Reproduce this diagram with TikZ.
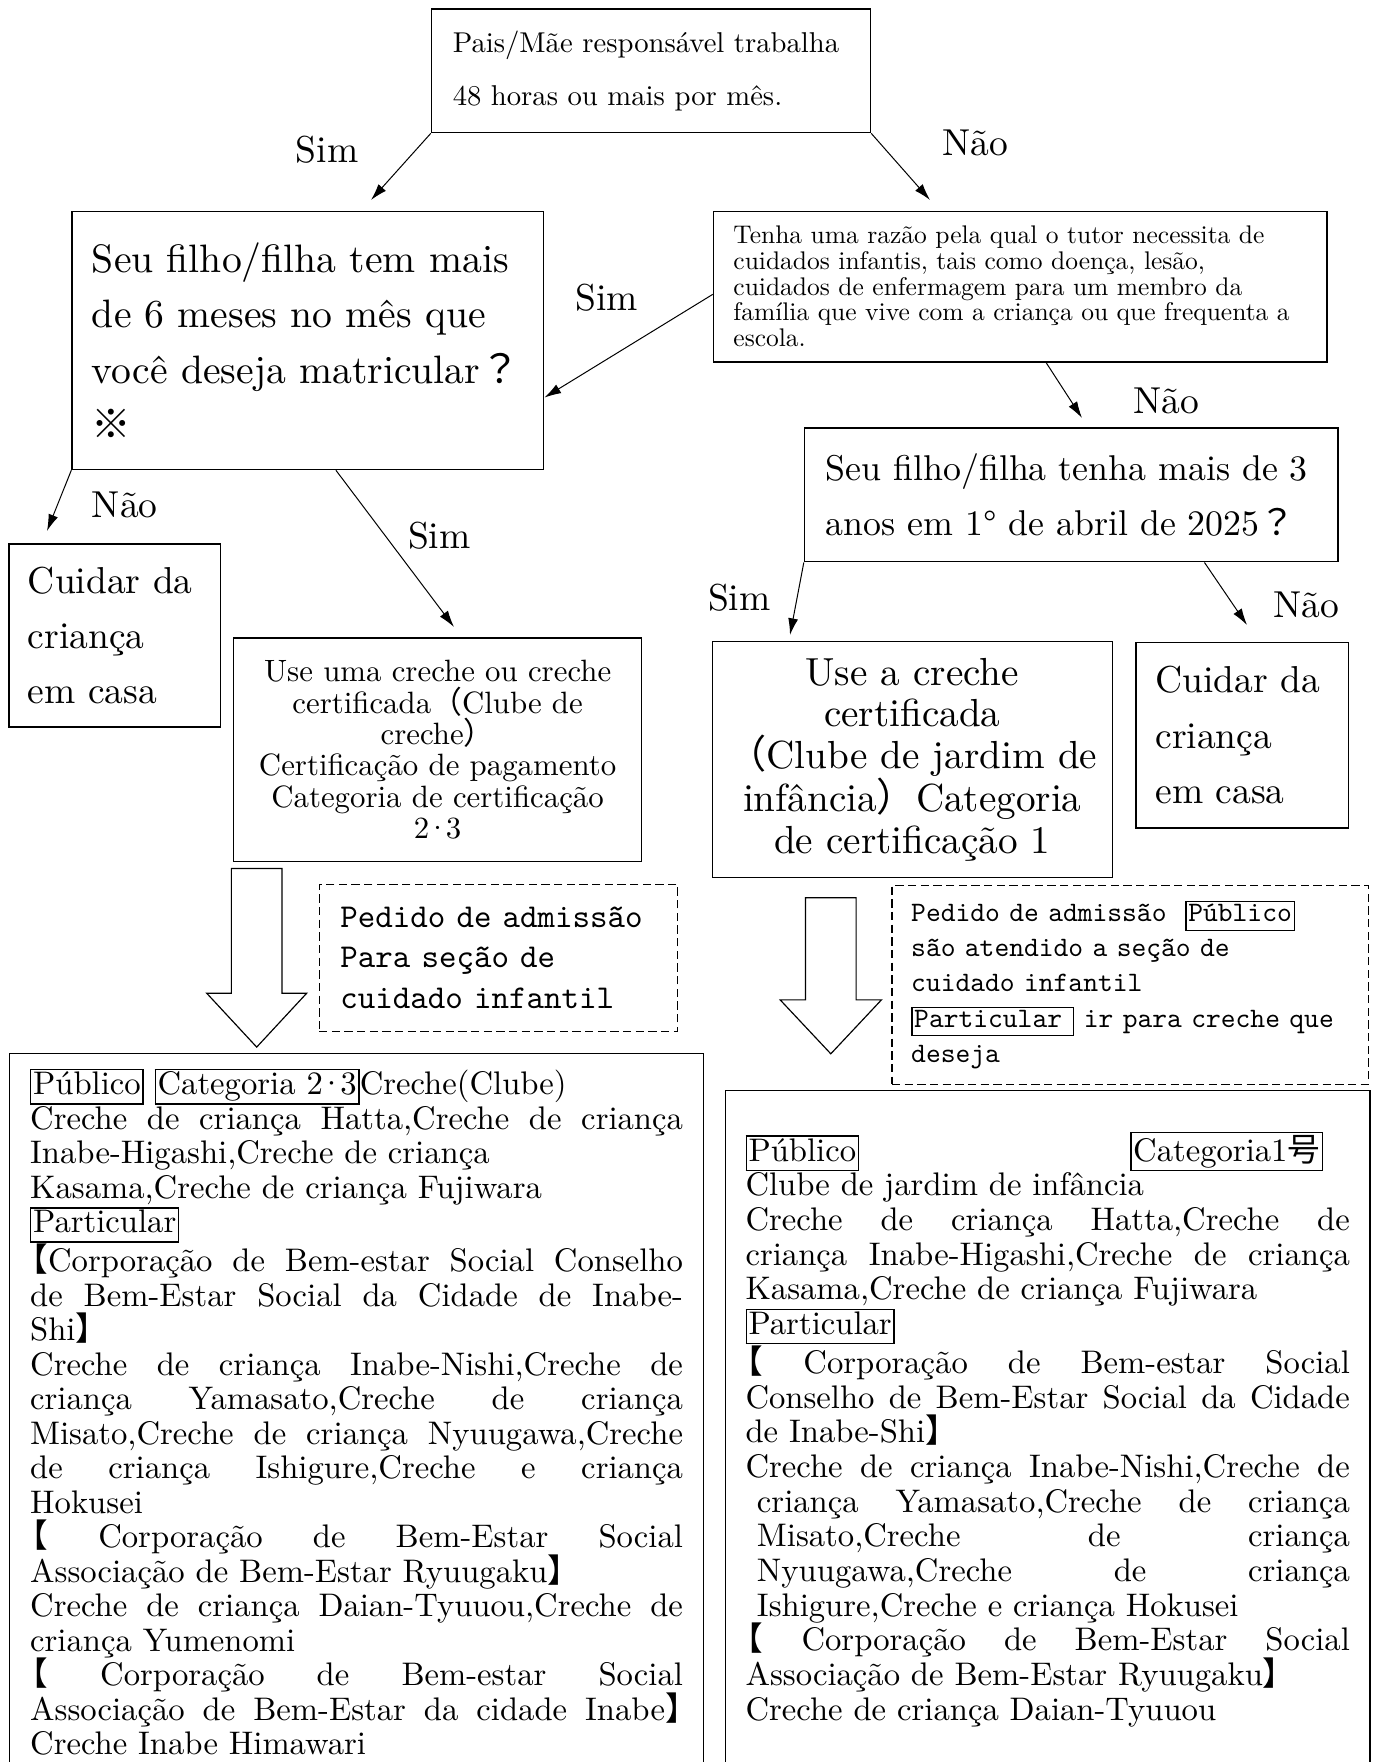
\documentclass[tikz,border=0pt]{standalone}
\usepackage{fontspec}
\setmainfont{lmroman10-regular.otf}
\setmonofont{lmmono10-regular.otf}
\newfontfamily\cjk{Noto Sans CJK JP}
\usetikzlibrary{
    arrows.meta,
    calc
}
\newcommand{\tagbox}[1]{{\setlength{\fboxsep}{1pt}\setlength{\fboxrule}{0.8pt}\fbox{\vphantom{Pg}#1}}}
\newcommand{\lbk}{\hspace*{-0.45em}{\cjk 【}}
\newcommand{\rbk}{{\cjk 】}\kern-0.45em}
\newcommand{\mdot}{\kern-0.12em·\kern-0.12em}
\tikzset{
    qbox/.style={draw, line width=0.8pt, align=left},
    abox/.style={draw, line width=0.8pt, align=center},
    notebox/.style={draw, line width=0.7pt, dash pattern=on 5pt off 2.6pt, align=left},
    listbox/.style={draw, line width=0.8pt, anchor=north west, inner xsep=12.3pt},
    lbl/.style={font=\fontsize{22.5}{24}\selectfont},
    flow/.style={-{Latex[length=10pt,width=6pt]}, line width=0.6pt},
    bigarrow/.style={draw, line width=0.7pt, fill=white}
}

\begin{document}
\begin{tikzpicture}[x=0.6pt, y=-0.6pt]
    \path[use as bounding box, fill=white] (0,0) rectangle (1374,1762);

    \node[qbox, minimum width=263.5pt, minimum height=74.3pt, inner xsep=12.8pt, text width=237.9pt,
        font=\fontsize{17.2}{32}\selectfont] (qTop) at (651,70.8)
        {Pais/Mãe responsável trabalha\\48 horas ou mais por mês.};
    \node[qbox, minimum width=283.1pt, minimum height=155pt, inner xsep=12pt, text width=259.1pt,
        font=\fontsize{23.8}{33.3}\selectfont] (qAge) at (307.9,340.4)
        {Seu filho/filha tem mais\\de 6 meses no mês que\\você deseja matricular{\cjk ？}\\{\cjk ※}};
    \node[qbox, minimum width=368.1pt, minimum height=90.4pt, inner xsep=12pt, text width=344.1pt,
        font=\fontsize{15.3}{15.4}\selectfont] (qReason) at (1020.2,286.5)
        {Tenha uma razão pela qual o tutor necessita de\\cuidados infantis, tais como doença, lesão,\\cuidados de enfermagem para um membro da\\família que vive com a criança ou que frequenta a\\escola.};
    \node[qbox, minimum width=320.2pt, minimum height=80.3pt, inner xsep=12.8pt, text width=294.6pt,
        font=\fontsize{21.5}{33}\selectfont] (qThree) at (1071.3,494.9)
        {Seu filho/filha tenha mais de 3\\anos em 1° de abril de 2025{\cjk ？}};
    \node[qbox, minimum width=126.7pt, minimum height=109.8pt, inner xsep=11.3pt, text width=104pt,
        font=\fontsize{22.5}{33}\selectfont] (homeL) at (114.6,635.4)
        {Cuidar da\\criança\\em casa};
    \node[abox, minimum width=244.7pt, minimum height=134.2pt, inner xsep=8.3pt, text width=228pt,
        font=\fontsize{18.5}{18.8}\selectfont] (use23) at (437.6,749.9)
        {Use uma creche ou creche\\certificada{\cjk （}Clube de\\creche{\cjk ）}\\Certificação de pagamento\\Categoria de certificação\\2\mdot 3};
    \node[abox, minimum width=240pt, minimum height=141.6pt, inner xsep=4pt, text width=232pt,
        font=\fontsize{23.5}{24.9}\selectfont] (use1) at (912.3,759.5)
        {Use a creche\\certificada\\{\cjk （}Clube de jardim de\\infância{\cjk ）}Categoria\\de certificação 1};
    \node[qbox, minimum width=127.4pt, minimum height=111.2pt, inner xsep=11.7pt, text width=104pt,
        font=\fontsize{22.5}{33.4}\selectfont] (homeR) at (1242.1,735.3)
        {Cuidar da\\criança\\em casa};

    \node[notebox, minimum width=215pt, minimum height=88.3pt, inner xsep=12.8pt, text width=189.4pt,
        font=\ttfamily\fontsize{20}{24.3}\selectfont] (noteL) at (498.3,957.8)
        {Pedido de admissão\\Para seção de\\cuidado infantil};
    \node[notebox, minimum width=285.8pt, minimum height=119.3pt, inner xsep=11.5pt, text width=262.8pt,
        font=\ttfamily\fontsize{16.9}{21.1}\selectfont] (noteR) at (1130.2,984.8)
        {Pedido de admissão\ \ \tagbox{Público}\\são atendido a seção de\\cuidado infantil\\\tagbox{Particular\ }\ ir para creche que\\deseja};

    \draw[bigarrow] (231.4,868.5) -- (282,868.5) -- (282,993.2) -- (306.7,993.2) -- (256.7,1047.1) -- (206.7,993.2) -- (231.4,993.2) -- cycle;
    \draw[bigarrow] (805.5,897.7) -- (856.1,897.7) -- (856.1,999.9) -- (881.4,999.9) -- (830.8,1053.8) -- (780.2,999.9) -- (805.5,999.9) -- cycle;

    \node[listbox, inner ysep=9.3pt, font=\fontsize{19.6}{20.7}\selectfont] (pubList) at (9,1052.7)
        {\parbox[t][450pt][t]{391.7pt}{\hyphenpenalty=10000\exhyphenpenalty=10000
        \tagbox{Público}\ \tagbox{Categoria 2\mdot 3}Creche(Clube)\newline
        Creche de criança Hatta,Creche de criança\linebreak
        Inabe-Higashi,Creche de criança\newline
        Kasama,Creche de criança Fujiwara\newline
        \tagbox{Particular}\newline
        \lbk Corporação de Bem-estar Social Conselho\linebreak
        de Bem-Estar Social da Cidade de Inabe-\linebreak
        Shi{\cjk 】}\newline
        Creche de criança Inabe-Nishi,Creche de\linebreak
        criança Yamasato,Creche de criança\linebreak
        Misato,Creche de criança Nyuugawa,Creche\linebreak
        de criança Ishigure,Creche e criança\linebreak
        Hokusei\newline
        \lbk\ Corporação de Bem-Estar Social\linebreak
        Associação de Bem-Estar Ryuugaku{\cjk 】}\newline
        Creche de criança Daian-Tyuuou,Creche de\linebreak
        criança Yumenomi\newline
        \lbk\ Corporação de Bem-estar Social\linebreak
        Associação de Bem-Estar da cidade Inabe\rbk\linebreak
        Creche Inabe Himawari}};
    \node[listbox, inner ysep=25pt, inner xsep=12.1pt, font=\fontsize{19.6}{20.8}\selectfont] (privList) at (724.7,1089.8)
        {\parbox[t][420pt][t]{362.6pt}{\hyphenpenalty=10000\exhyphenpenalty=10000
        \tagbox{Público}\hfill\tagbox{Categoria1{\cjk 号}}\hspace*{16pt}\newline
        Clube de jardim de infância\newline
        Creche de criança Hatta,Creche de\linebreak
        criança Inabe-Higashi,Creche de criança\linebreak
        Kasama,Creche de criança Fujiwara\newline
        \tagbox{Particular}\newline
        \lbk\ Corporação de Bem-estar Social\linebreak
        Conselho de Bem-Estar Social da Cidade\linebreak
        de Inabe-Shi{\cjk 】}\newline
        Creche de criança Inabe-Nishi,Creche de\linebreak
        \hspace*{0.35em}criança Yamasato,Creche de criança\linebreak
        \hspace*{0.35em}Misato,Creche de criança\linebreak
        \hspace*{0.35em}Nyuugawa,Creche de criança\linebreak
        \hspace*{0.35em}Ishigure,Creche e criança Hokusei\newline
        \lbk\ Corporação de Bem-Estar Social\linebreak
        Associação de Bem-Estar Ryuugaku{\cjk 】}\newline
        Creche de criança Daian-Tyuuou}};

    \node[lbl] (simTop) at (327,149.4) {Sim};
    \node[lbl] (naoTop) at (975.2,142.7) {Não};
    \node[lbl] (simMid) at (606.7,297.7) {Sim};
    \node[lbl] (naoMid) at (1166.2,401.1) {Não};
    \node[lbl] (naoAge) at (124.7,504.5) {Não};
    \node[lbl] (simAge) at (439.3,535.9) {Sim};
    \node[lbl] (simThree) at (739.3,597.7) {Sim};
    \node[lbl] (naoThree) at (1306.6,604.4) {Não};

    \coordinate (simA) at (371,200);
    \coordinate (naoA) at (930,200);
    \coordinate (naoB) at (1082,418);
    \coordinate (naoC) at (47,531);
    \coordinate (simC) at (454,627);
    \coordinate (simD) at (790,635);
    \coordinate (naoD) at (1247,625);

    \draw[flow] (qTop.south west) -- (simA);
    \draw[flow] (qTop.south east) -- (naoA);
    \draw[flow] ([yshift=-4.7pt]qReason.west) -- ([yshift=-34.3pt]qAge.east);
    \draw[flow] ([xshift=15.5pt]qReason.south) -- (naoB);
    \draw[flow] (qAge.south west) -- (naoC);
    \draw[flow] ([xshift=16.8pt]qAge.south) -- (simC);
    \draw[flow] (qThree.south west) -- (simD);
    \draw[flow] ([xshift=79.9pt]qThree.south) -- (naoD);
\end{tikzpicture}
\end{document}
